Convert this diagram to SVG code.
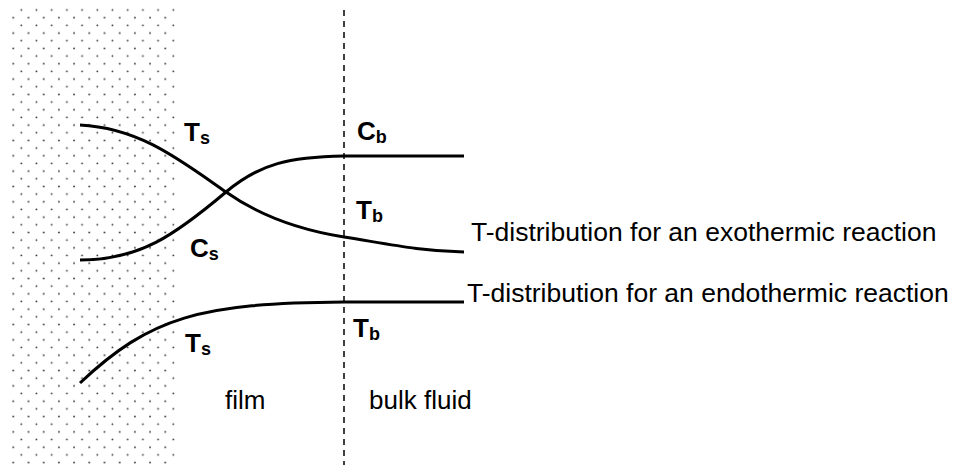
<svg xmlns="http://www.w3.org/2000/svg" width="962" height="465" viewBox="0 0 962 465">
<style>
.curve{fill:none;stroke:#000;stroke-width:3;stroke-linecap:butt}
.lbl{font-family:"Liberation Sans",Arial,sans-serif;font-weight:bold;font-size:26px;fill:#000}
.sub{font-size:18px}
.txt{font-family:"Liberation Sans",Arial,sans-serif;font-size:26.5px;fill:#000}
.reg{font-family:"Liberation Sans",Arial,sans-serif;font-size:26px;fill:#000}
.dash{stroke:#000;stroke-width:1.5;stroke-dasharray:6 5;fill:none}
</style>
<defs>
<pattern id="dots" patternUnits="userSpaceOnUse" x="0" y="0" width="15.2" height="15.34">
<circle cx="13.3" cy="2.36" r="0.9" fill="#333"/>
<circle cx="6.1" cy="10" r="0.9" fill="#333"/>
</pattern>
</defs>
<rect width="962" height="465" fill="#fff"/>
<g id="surface"><rect x="8" y="5" width="169" height="460" fill="url(#dots)"/></g>
<g id="boundary"><line class="dash" x1="344" y1="10" x2="344" y2="465"/></g>
<g id="connectors">
<path id="t-exo" class="curve" d="M80,125 C140,128 180,160 226,192 C260,216 300,230 344,237 C390,244.3 420,251 464,252"/>
<path id="c-curve" class="curve" d="M80,260 C140,260 175,235 226,192 C260,163.3 290,157 344,156 L464,156"/>
<path id="t-endo" class="curve" d="M80,383 C150,317 200,303 344,302 L464,302"/>
</g>
<g id="label-ts1"><text class="lbl" x="184" y="141">T<tspan class="sub" dy="3">s</tspan></text></g>
<g id="label-cb"><text class="lbl" x="357" y="140">C<tspan class="sub" dy="3">b</tspan></text></g>
<g id="label-tb1"><text class="lbl" x="356" y="219">T<tspan class="sub" dy="3">b</tspan></text></g>
<g id="label-cs"><text class="lbl" x="190" y="257">C<tspan class="sub" dy="3">s</tspan></text></g>
<g id="label-tb2"><text class="lbl" x="353" y="337">T<tspan class="sub" dy="3">b</tspan></text></g>
<g id="label-ts2"><text class="lbl" x="185" y="352">T<tspan class="sub" dy="3">s</tspan></text></g>
<g id="label-exo"><text class="txt" x="471" y="241">T-distribution for an exothermic reaction</text></g>
<g id="label-endo"><text class="txt" x="467" y="302">T-distribution for an endothermic reaction</text></g>
<g id="label-film"><text class="reg" x="225" y="409">film</text></g>
<g id="label-bulk"><text class="reg" x="369" y="409">bulk fluid</text></g>
</svg>
